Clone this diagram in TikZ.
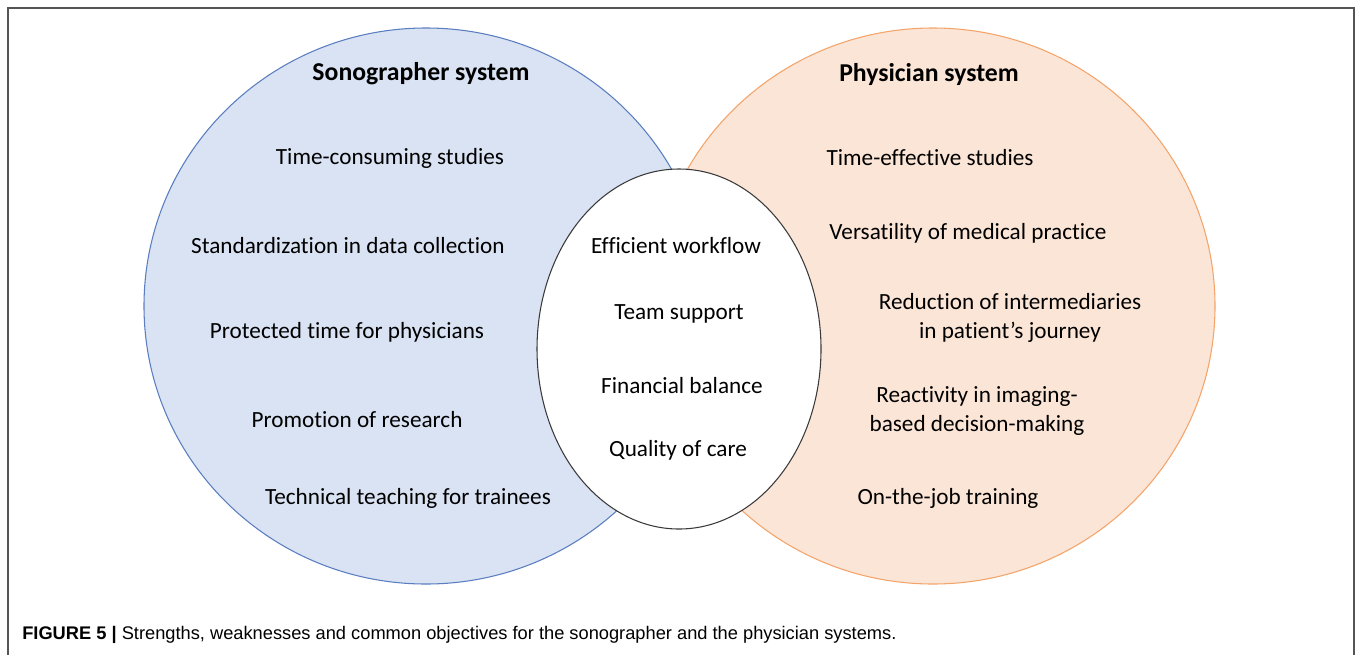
\documentclass[tikz,border=0pt]{standalone}
\usepackage{fontspec}
\setmainfont{Carlito}[Ligatures={NoCommon}]
\newfontfamily\capfont{Liberation Sans}
\definecolor{sonofill}{HTML}{DAE3F3}
\definecolor{sonoline}{HTML}{5A7EC0}
\definecolor{physfill}{HTML}{FBE5D6}
\definecolor{physline}{HTML}{F4A46A}
\definecolor{framecol}{HTML}{555555}
\definecolor{ellline}{HTML}{3A3A3A}
\tikzset{
  item/.style={font=\fontsize{17.4}{21.75}\selectfont, align=center, inner sep=0pt},
  title/.style={font=\fontsize{19.3}{23}\selectfont\bfseries, inner sep=0pt},
}
\begin{document}
\begin{tikzpicture}[x=0.75pt,y=-0.75pt]
\useasboundingbox (0,0) rectangle (1358,654);
% frame (open at the bottom)
\draw[framecol, line width=1.1pt] (8,656) -- (8,8) -- (1354,8) -- (1354,656);
% system circles
\fill[sonofill] (426,306) ellipse [x radius=211.5pt, y radius=208.5pt];
\draw[sonoline, line width=0.8pt] (426,306) ellipse [x radius=211.5pt, y radius=208.5pt];
\fill[physfill] (933,306) ellipse [x radius=211.5pt, y radius=208.5pt];
\draw[physline, line width=0.8pt] (933,306) ellipse [x radius=211.5pt, y radius=208.5pt];
% common objectives
\filldraw[fill=white, draw=ellline, line width=0.8pt] (679,349) ellipse [x radius=106.5pt, y radius=135pt];
% sonographer
\node[title] (st) at (421,74) {Sonographer system};
\node[item] (s1) at (390,158) {Time-consuming studies};
\node[item] (s2) at (348,246) {Standardization in data collection};
\node[item] (s3) at (347,332) {Protected time for physicians};
\node[item] (s4) at (357,420) {Promotion of research};
\node[item] (s5) at (408,498) {Technical teaching for trainees};
% common
\node[item] (c1) at (676,246) {Efficient workflow};
\node[item] (c2) at (679,314) {Team support};
\node[item] (c3) at (682,386) {Financial balance};
\node[item] (c4) at (678,450) {Quality of care};
% physician
\node[title] (pt) at (929,74) {Physician system};
\node[item] (p1) at (930,158) {Time-effective studies};
\node[item] (p2) at (968,233) {Versatility of medical practice};
\node[item] (p3) at (1010,318) {Reduction of intermediaries\\in patient’s journey};
\node[item] (p4) at (977,411) {Reactivity in imaging-\\based decision-making};
\node[item] (p5) at (948,498) {On-the-job training};
% caption
\node[anchor=west, inner sep=0pt, font=\capfont\fontsize{13.7}{16}\selectfont] (cap) at (22,635)
  {\textbf{FIGURE 5 |} Strengths, weaknesses and common objectives for the sonographer and the physician systems.};
\end{tikzpicture}
\end{document}
